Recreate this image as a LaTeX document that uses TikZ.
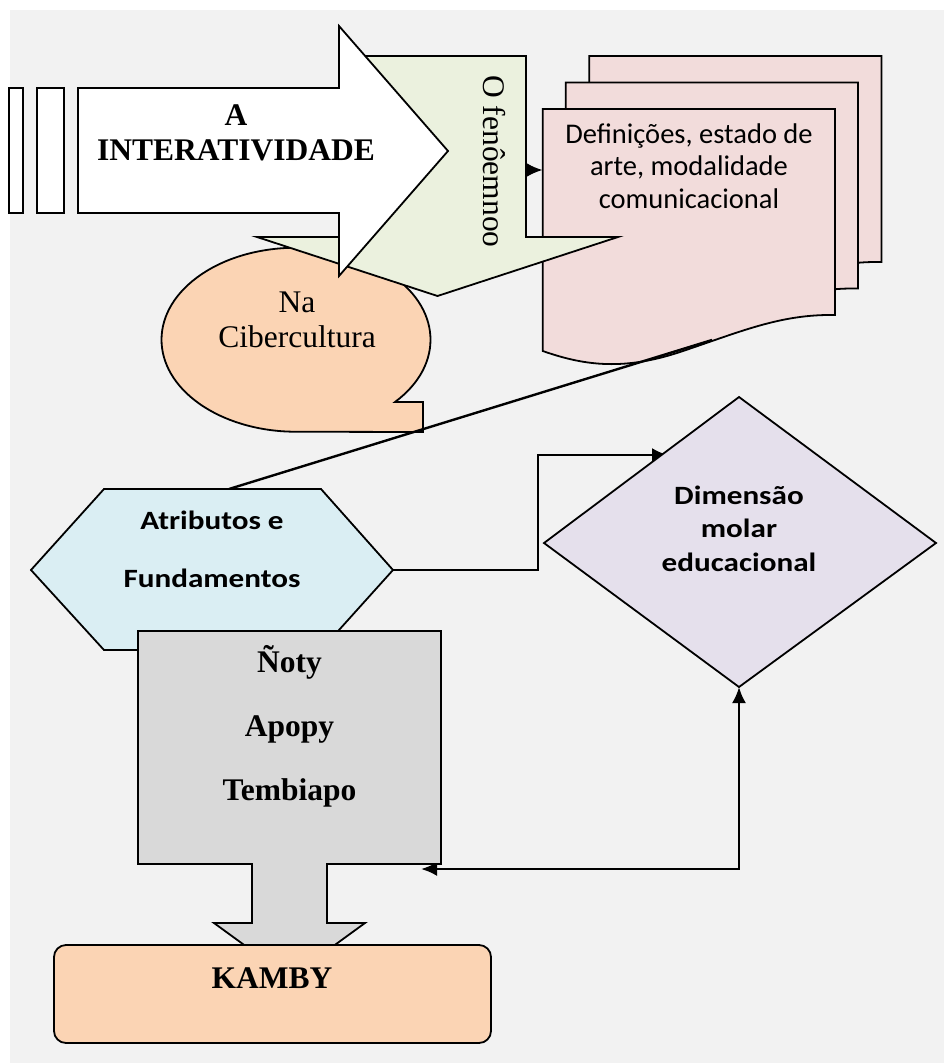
\documentclass[tikz,border=0pt]{standalone}
\usepackage{fontspec}
\setmainfont{Liberation Serif}
\newfontfamily\docfont{Carlito}
\newfontfamily\widefont[FakeStretch=1.18]{Carlito}
\usetikzlibrary{arrows.meta}

\definecolor{paper}{HTML}{F2F2F2}
\definecolor{leafgreen}{HTML}{EBF1DE}
\definecolor{rosepage}{HTML}{F2DCDB}
\definecolor{peach}{HTML}{FBD4B4}
\definecolor{skyblue}{HTML}{DAEEF3}
\definecolor{lavender}{HTML}{E5E0EC}
\definecolor{greybox}{HTML}{D9D9D9}

\begin{document}
\begin{tikzpicture}[x=1pt,y=-1pt,
  outline/.style={draw=black,line width=1.8pt,line join=miter},
  link/.style={draw=black,line width=2.4pt},
  tip/.style={-{Latex[length=16pt,width=14pt]}},
  serifbig/.style={font=\fontsize{31.5}{35}\selectfont,align=center,inner sep=0pt},
  seriftall/.style={font=\bfseries\fontsize{31.5}{64}\selectfont,align=center,inner sep=0pt},
  doctext/.style={font=\docfont\fontsize{28.5}{32.5}\selectfont,align=center,inner sep=0pt},
  hextext/.style={font=\widefont\bfseries\fontsize{26.4}{58}\selectfont,align=center,inner sep=0pt},
  diatext/.style={font=\widefont\bfseries\fontsize{26.4}{33.5}\selectfont,align=center,inner sep=0pt}]

\useasboundingbox (0,0) rectangle (944,1063);
\fill[paper] (10,10) rectangle (944,1063);

% stack of three pages with a wavy lower edge
\foreach \dx/\dy in {46.5/-53, 23/-26.5, 0/0}{
  \draw[outline,fill=rosepage,shift={(\dx,\dy)}]
    (542.7,109) -- (835,109) -- (835,315)
    .. controls (780,314) and (740,332) .. (680,352)
    .. controls (620,372) and (580,364) .. (542.7,351) -- cycle;
}
\node[doctext] (defs) at (689,166) {Definições, estado de\\arte, modalidade\\comunicacional};
\coordinate (docIn) at (542.7,170);
\coordinate (docBot) at (712,340);

% speech bubble
\draw[outline,fill=peach]
  (395,402) arc[start angle=42.6,end angle=-270,x radius=134.5,y radius=92]
  -- (423,432) -- (423,402) -- cycle;
\node[serifbig] (ciber) at (297,320) {Na\\Cibercultura};

% down-arrow callout with vertical text
\draw[outline,fill=leafgreen]
  (349,56) -- (526,56) -- (526,237) -- (618,237) -- (437.5,296)
  -- (257,237) -- (349,237) -- cycle;
\node[font=\fontsize{31.5}{35}\selectfont,inner sep=0pt,rotate=-90] (fen) at (494,161.5) {O fenôemnoo};
\coordinate (fenOut) at (526,170);

% striped block arrow
\draw[outline,fill=white] (9,88) rectangle (23,213);
\draw[outline,fill=white] (37,88) rectangle (64,213);
\draw[outline,fill=white]
  (78,88) -- (339,88) -- (339,26) -- (448,151) -- (339,276)
  -- (339,213) -- (78,213) -- cycle;
\node[serifbig,font=\bfseries\fontsize{31.5}{35}\selectfont] (inter) at (236,133) {A\\INTERATIVIDADE};

\draw[link,tip] (fenOut) -- (docIn);

% hexagon and its connectors
\coordinate (hexTop) at (229,489);
\coordinate (hexR) at (393,570);
\coordinate (elbowA) at (538,570);
\coordinate (elbowB) at (538,455);
\coordinate (diaIn) at (668,455);
\draw[link] (hexTop) -- (docBot);
\draw[link,tip] (hexR) -- (elbowA) -- (elbowB) -- (diaIn);

% diamond
\draw[outline,fill=lavender]
  (739,397) -- (936,543) -- (739,687) -- (544,543) -- cycle;
\node[diatext] (dim) at (739,528.5) {Dimensão\\molar\\educacional};
\coordinate (diaBot) at (739,687);

\draw[outline,fill=skyblue]
  (104,489) -- (321,489) -- (393,570) -- (321,650) -- (104,650) -- (31,570) -- cycle;
\node[hextext] (attr) at (212,549) {Atributos e\\Fundamentos};

% two-way connector between the grey block and the diamond
\coordinate (greyIn) at (421,869);
\coordinate (elbowC) at (739,869);
\draw[link,{Latex[length=16pt,width=14pt]}-{Latex[length=16pt,width=14pt]}] (greyIn) -- (elbowC) -- (diaBot);

% grey block with downward arrow
\draw[outline,fill=greybox]
  (138,631) -- (441,631) -- (441,864) -- (327,864) -- (327,923) -- (365,923)
  -- (289.5,978) -- (214,923) -- (252,923) -- (252,864) -- (138,864) -- cycle;
\node[seriftall] (verbs) at (289.5,726) {Ñoty\\Apopy\\Tembiapo};

% final rounded box
\draw[outline,fill=peach,rounded corners=12pt] (54,945) rectangle (491,1043);
\node[serifbig,font=\bfseries\fontsize{31.5}{35}\selectfont] (kamby) at (272,978.5) {KAMBY};

\end{tikzpicture}
\end{document}
